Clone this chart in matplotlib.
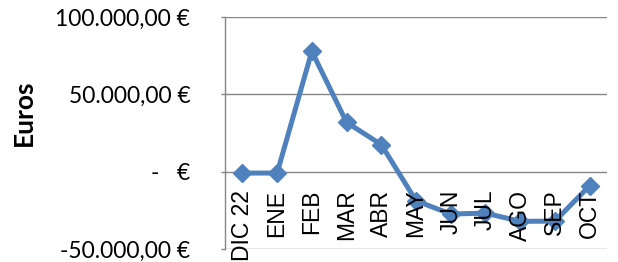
import matplotlib.pyplot as plt
from matplotlib.transforms import offset_copy

meses = ['DIC 22', 'ENE', 'FEB', 'MAR', 'ABR', 'MAY', 'JUN', 'JUL', 'AGO', 'SEP', 'OCT']
euros = [-900, -900, 77800, 31900, 17500, -18800, -27400, -26800, -32100, -32000, -9100]
y_ticks = [-50000, 0, 50000, 100000]
y_labels = ['-50.000,00 €', '-   €', '50.000,00 €', '100.000,00 €']

plt.rcParams['font.family'] = ['Lato', 'DejaVu Sans']
fig = plt.figure(figsize=(6.18, 2.62), dpi=100)
ax = fig.add_axes([225 / 618, 1 - 249 / 262, (607 - 225) / 618, (249 - 17) / 262])

x = list(range(len(meses)))
ax.plot(x, euros, color='#4F81BD', lw=3.6, marker='D', markersize=9.5, zorder=3)

ax.set_xlim(-0.5, len(meses) - 0.5)
ax.set_ylim(-50000, 100000)
ax.set_yticks(y_ticks)
ax.set_yticklabels(y_labels, fontsize=16.5)
ax.grid(axis='y', color='#868686', lw=1)
ax.set_axisbelow(True)
ax.tick_params(axis='y', length=3, width=1, color='#868686', pad=22)
ax.set_xticks([])
for s in ['top', 'right', 'bottom']:
    ax.spines[s].set_visible(False)
ax.spines['left'].set_color('#868686')
ax.spines['left'].set_linewidth(1)

# etiquetas de categoria debajo de la linea del cero
tr = offset_copy(ax.transData, fig=fig, x=0, y=-18, units='dots')
for i, m in enumerate(meses):
    ax.text(i, 0, m, rotation=90, ha='center', va='top', fontsize=16.5,
            family=['Liberation Sans', 'DejaVu Sans'], transform=tr, zorder=5,
            clip_on=False)

fig.text(24 / 618, 1 - 113 / 262, 'Euros', rotation=90, ha='center', va='center',
         fontsize=19, fontweight='bold')

fig.savefig('out.png', dpi=100)
